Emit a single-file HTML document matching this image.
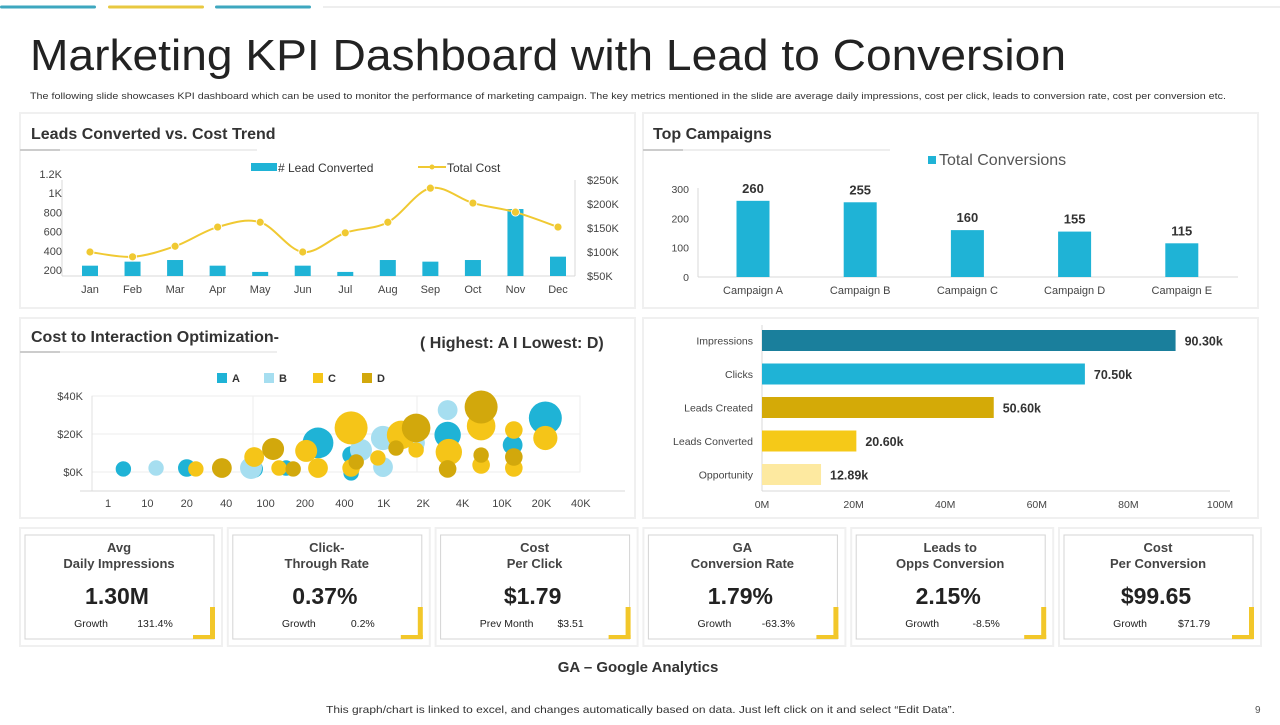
<!DOCTYPE html>
<html><head><meta charset="utf-8"><style>
html,body{margin:0;padding:0;background:#fff;}
svg text{font-family:"Liberation Sans",Arial,sans-serif;}
</style></head><body>
<svg id="s" width="1280" height="720" viewBox="0 0 1280 720" xmlns="http://www.w3.org/2000/svg">
<g>
<rect x="0" y="5.5" width="96" height="3" rx="1.5" fill="#3ea7bf"/>
<rect x="108" y="5.5" width="96" height="3" rx="1.5" fill="#e8c840"/>
<rect x="215" y="5.5" width="96" height="3" rx="1.5" fill="#3ea7bf"/>
<rect x="323" y="6" width="957" height="2" fill="#eeeeee"/>
</g>
<text x="30" y="70" font-size="44" fill="#222" textLength="1036" lengthAdjust="spacingAndGlyphs">Marketing KPI Dashboard with Lead to Conversion</text>
<text x="30" y="99" font-size="9.5" fill="#333" textLength="1196" lengthAdjust="spacingAndGlyphs">The following slide showcases KPI dashboard which can be used to monitor the performance of marketing campaign. The key metrics mentioned in the slide are average daily impressions, cost per click, leads to conversion rate, cost per conversion etc.</text>

<g fill="#fff" stroke="#f0f0f0" stroke-width="2">
<rect x="20" y="113" width="615" height="195"/>
<rect x="643" y="113" width="615" height="195"/>
<rect x="20" y="318" width="615" height="200"/>
<rect x="643" y="318" width="615" height="200"/>
</g>

<text x="31" y="139" font-size="16" font-weight="bold" fill="#333">Leads Converted vs. Cost Trend</text>
<line x1="20" y1="150" x2="257" y2="150" stroke="#ddd" stroke-width="1"/><line x1="20" y1="150" x2="60" y2="150" stroke="#ccc" stroke-width="2"/>
<text x="653" y="139" font-size="16" font-weight="bold" fill="#333">Top Campaigns</text>
<line x1="643" y1="150" x2="890" y2="150" stroke="#ddd" stroke-width="1"/><line x1="643" y1="150" x2="683" y2="150" stroke="#ccc" stroke-width="2"/>
<text x="31" y="342" font-size="16" font-weight="bold" fill="#333">Cost to Interaction Optimization-</text>
<line x1="20" y1="352" x2="277" y2="352" stroke="#ddd" stroke-width="1"/><line x1="20" y1="352" x2="60" y2="352" stroke="#ccc" stroke-width="2"/>
<text x="420" y="348" font-size="16" font-weight="bold" fill="#333">( Highest: A I Lowest: D)</text>

<g id="c1"></g>
<g id="c2"></g>
<g id="c3"></g>
<g id="c4"></g>
<g id="kpi"></g>

<text x="638" y="672" font-size="15" font-weight="bold" fill="#333" text-anchor="middle">GA – Google Analytics</text>
<text x="326" y="713" font-size="10.5" fill="#333" textLength="629" lengthAdjust="spacingAndGlyphs">This graph/chart is linked to excel,  and changes automatically based on data. Just left click on it and select “Edit Data”.</text>
<text x="1255" y="713" font-size="10" fill="#555">9</text>
</svg>
<script>
// Chart 1 data
const months = ["Jan","Feb","Mar","Apr","May","Jun","Jul","Aug","Sep","Oct","Nov","Dec"];
const leadsConverted = [245,287,304,245,180,245,180,304,287,304,835,339];
const totalCost = [100,90,112,152,162,100,140,162,233,202,183,152];
const leftTicks = [200,400,600,800,1000,1200];
const leftTickLabels = ["200","400","600","800","1K","1.2K"];
const rightTicks = [50,100,150,200,250];
const rightTickLabels = ["$50K","$100K","$150K","$200K","$250K"];
// Chart 2 data
const campaigns = ["Campaign A","Campaign B","Campaign C","Campaign D","Campaign E"];
const conversions = [260,255,160,155,115];
const campTicks = [0,100,200,300];
// Chart 3 data (x = position index on category axis, y in $K, size)
const bubbleXLabels = ["1","10","20","40","100","200","400","1K","2K","4K","10K","20K","40K"];
const bubbleYTicks = [0,20,40];
const seriesNames = ["A","B","C","D"];
const aX=[0.39,2.0,3.71,4.52,5.33,6.17,6.17,7.82,8.62,10.27,11.1];
const aY=[1.6,2.1,1.6,2.1,15.3,8.9,-0.5,13.2,19.5,14.2,28.4];
const aR=[7,8,8,7,14,8,7,7,12,9,15];
const bX=[1.22,3.63,6.42,6.98,6.98,7.82,8.62];
const bY=[2.1,2.1,11.6,17.9,2.6,15.3,32.6];
const bR=[7,10,10,11,9,8,9];
const cX=[2.23,3.71,4.34,5.03,5.33,6.17,6.17,6.85,7.44,7.82,8.65,9.47,9.47,10.3,10.3,11.1];
const cY=[1.6,7.9,2.1,11.1,2.1,23.2,2.1,7.4,19.5,11.6,10.5,24.2,3.7,22.1,2.1,17.9];
const cR=[7,9,7,10,9,15,8,7,13,7,12,13,8,8,8,11];
const dX=[2.89,4.19,4.7,6.3,7.31,7.82,8.62,9.47,9.47,10.3];
const dY=[2.1,12.1,1.6,5.3,12.6,23.2,1.6,34.2,8.9,7.9];
const dR=[9,10,7,7,7,13,8,15,7,8];
// Chart 4 data (millions)
const funnelCats = ["Impressions","Clicks","Leads Created","Leads Converted","Opportunity"];
const funnelVals = [90.30,70.50,50.60,20.60,12.89];
const funnelLabels = ["90.30k","70.50k","50.60k","20.60k","12.89k"];
const funnelTicks = [0,20,40,60,80,100];
// KPI data
const kpiTitle1=["Avg","Click-","Cost","GA","Leads to","Cost"];
const kpiTitle2=["Daily Impressions","Through Rate","Per Click","Conversion  Rate","Opps  Conversion","Per Conversion"];
const kpiValues=["1.30M","0.37%","$1.79","1.79%","2.15%","$99.65"];
const kpiSubLabels=["Growth","Growth","Prev Month","Growth","Growth","Growth"];
const kpiSubValues=["131.4%","0.2%","$3.51","-63.3%","-8.5%","$71.79"];

const NS="http://www.w3.org/2000/svg";
function mk(parent,tag,attrs,txt){const e=document.createElementNS(NS,tag);for(const k in attrs)e.setAttribute(k,attrs[k]);if(txt!==undefined)e.textContent=txt;parent.appendChild(e);return e;}

// ---- Chart 1
(function(){
const g=document.getElementById('c1');
const x0=90,dx=(558-90)/11;
const xM=i=>x0+i*dx;
const yL=v=>270-(v-200)*19.2/200;
const yR=v=>276-(v-50)*0.48;
mk(g,'line',{x1:62,y1:180,x2:62,y2:276,stroke:'#d9d9d9'});
mk(g,'line',{x1:575,y1:180,x2:575,y2:276,stroke:'#d9d9d9'});
mk(g,'line',{x1:62,y1:276,x2:575,y2:276,stroke:'#d9d9d9'});
leftTicks.forEach((t,i)=>{const e=mk(g,'text',{x:62,y:yL(t)+4,'font-size':11,fill:'#444','text-anchor':'end'},leftTickLabels[i]);

});
rightTicks.forEach((t,i)=>{const e=mk(g,'text',{x:587,y:yR(t)+4,'font-size':11,fill:'#444'},rightTickLabels[i]);

});
months.forEach((m,i)=>{
const b=mk(g,'rect',{x:xM(i)-8,y:yL(leadsConverted[i]),width:16,height:276-yL(leadsConverted[i]),fill:'#1fb3d6'});


const t=mk(g,'text',{x:xM(i),y:293,'font-size':11,fill:'#444','text-anchor':'middle'},m);


});
const pts=totalCost.map((v,i)=>[xM(i),yR(v)]);
let d='M'+pts[0][0]+','+pts[0][1];
for(let i=0;i<pts.length-1;i++){const p0=pts[i-1]||pts[i],p1=pts[i],p2=pts[i+1],p3=pts[i+2]||p2;
const c1x=p1[0]+(p2[0]-p0[0])/6,c1y=p1[1]+(p2[1]-p0[1])/6,c2x=p2[0]-(p3[0]-p1[0])/6,c2y=p2[1]-(p3[1]-p1[1])/6;
d+=` C${c1x},${c1y} ${c2x},${c2y} ${p2[0]},${p2[1]}`;}
const ln=mk(g,'path',{d:d,fill:'none',stroke:'#f0c932','stroke-width':2});


pts.forEach(p=>{const c=mk(g,'circle',{cx:p[0],cy:p[1],r:4,fill:'#f0c932',stroke:'#fff','stroke-width':0.8});

});
const lg=mk(g,'g',{});


mk(lg,'rect',{x:251,y:163,width:26,height:8,fill:'#1fb3d6'});
mk(lg,'text',{x:278,y:172,'font-size':12,fill:'#333'},'# Lead Converted');
mk(lg,'line',{x1:418,y1:167,x2:446,y2:167,stroke:'#f0c932','stroke-width':2});
mk(lg,'circle',{cx:432,cy:167,r:2.5,fill:'#f0c932'});
mk(lg,'text',{x:447,y:172,'font-size':12,fill:'#333'},'Total Cost');
})();

// ---- Chart 2
(function(){
const g=document.getElementById('c2');
const y=v=>277-v*0.293;
const cx=i=>753+i*107.2;
mk(g,'line',{x1:698,y1:188,x2:698,y2:277,stroke:'#d9d9d9'});
mk(g,'line',{x1:698,y1:277,x2:1238,y2:277,stroke:'#d9d9d9'});
campTicks.forEach(t=>{const e=mk(g,'text',{x:689,y:y(t)+4,'font-size':10.5,fill:'#444','text-anchor':'end'},String(t));

});
campaigns.forEach((c,i)=>{
const b=mk(g,'rect',{x:cx(i)-16.5,y:y(conversions[i]),width:33,height:277-y(conversions[i]),fill:'#1fb3d6'});


const v=mk(g,'text',{x:cx(i),y:y(conversions[i])-8,'font-size':13,'font-weight':'bold',fill:'#333','text-anchor':'middle'},String(conversions[i]));


const t=mk(g,'text',{x:cx(i),y:294,'font-size':11,fill:'#444','text-anchor':'middle'},c);


});
const lg=mk(g,'g',{});


mk(lg,'rect',{x:928,y:156,width:8,height:8,fill:'#1fb3d6'});
mk(lg,'text',{x:939,y:165,'font-size':16,fill:'#555'},'Total Conversions');
})();

// ---- Chart 3
(function(){
const g=document.getElementById('c3');
const x=i=>108+i*39.4;
const y=v=>472-v*1.9;
mk(g,'rect',{x:92,y:y(40),width:488,height:y(0)-y(40),fill:'none',stroke:'#eeeeee'});
mk(g,'line',{x1:92,y1:y(20),x2:580,y2:y(20),stroke:'#eeeeee'});
mk(g,'line',{x1:253,y1:y(40),x2:253,y2:y(0),stroke:'#eeeeee'});
mk(g,'line',{x1:417,y1:y(40),x2:417,y2:y(0),stroke:'#eeeeee'});
mk(g,'line',{x1:92,y1:y(40),x2:92,y2:491,stroke:'#e0e0e0'});
mk(g,'line',{x1:80,y1:491,x2:625,y2:491,stroke:'#d9d9d9'});
bubbleYTicks.forEach(t=>{const e=mk(g,'text',{x:83,y:y(t)+4,'font-size':11,fill:'#444','text-anchor':'end'},'$'+t+'K');

});
bubbleXLabels.forEach((l,i)=>{const e=mk(g,'text',{x:x(i),y:507,'font-size':11,fill:'#444','text-anchor':'middle'},l);

});
const colors=['#1fb3d6','#a6def0','#f5c518','#d2a80c'];
const sets=[[aX,aY,aR],[bX,bY,bR],[cX,cY,cR],[dX,dY,dR]];
sets.forEach((s,k)=>{s[0].forEach((xv,j)=>{
const c=mk(g,'circle',{cx:x(xv),cy:y(s[1][j]),r:s[2][j]*1.1,fill:colors[k]});


});});
const lg=mk(g,'g',{});


const lx=[217,264,313,362];
seriesNames.forEach((n,k)=>{mk(lg,'rect',{x:lx[k],y:373,width:10,height:10,fill:colors[k]});
mk(lg,'text',{x:lx[k]+15,y:382,'font-size':11,'font-weight':'bold',fill:'#333'},n);});
})();

// ---- Chart 4
(function(){
const g=document.getElementById('c4');
const x=v=>762+v*4.58;
const colors=['#1a7f9c','#1fb3d6','#d4aa07','#f5c918','#fde9a0'];
mk(g,'line',{x1:762,y1:325,x2:762,y2:491,stroke:'#d9d9d9'});
mk(g,'line',{x1:762,y1:491,x2:1230,y2:491,stroke:'#d9d9d9'});
funnelCats.forEach((c,i)=>{const cy=340.5+i*33.5;
const b=mk(g,'rect',{x:762,y:cy-10.5,width:x(funnelVals[i])-762,height:21,fill:colors[i]});


const t=mk(g,'text',{x:753,y:cy+4,'font-size':10.5,fill:'#444','text-anchor':'end'},c);


const v=mk(g,'text',{x:x(funnelVals[i])+9,y:cy+5,'font-size':12.5,'font-weight':'bold',fill:'#333'},funnelLabels[i]);


});
funnelTicks.forEach(t=>{const e=mk(g,'text',{x:x(t),y:508,'font-size':10.5,fill:'#444','text-anchor':'middle'},t+'M');

});
})();

// ---- KPI cards
(function(){
const g=document.getElementById('kpi');
kpiValues.forEach((v,i)=>{
const x0=25+i*207.8, cx=x0+94;
const card=mk(g,'g',{});


mk(card,'rect',{x:x0-5,y:528,width:202,height:118,fill:'#fff',stroke:'#f0f0f0','stroke-width':2});
mk(card,'rect',{x:x0,y:535,width:189,height:104,fill:'#fff',stroke:'#d4d4d4','stroke-width':1});
mk(card,'text',{x:cx,y:552,'font-size':13,'font-weight':'bold',fill:'#444','text-anchor':'middle'},kpiTitle1[i]);
mk(card,'text',{x:cx,y:568,'font-size':13,'font-weight':'bold',fill:'#444','text-anchor':'middle'},kpiTitle2[i]);
mk(card,'text',{x:cx-2,y:604,'font-size':23,'font-weight':'bold',fill:'#222','text-anchor':'middle'},v);
mk(card,'text',{x:cx-28,y:627,'font-size':10.5,fill:'#222','text-anchor':'middle'},kpiSubLabels[i]);
mk(card,'text',{x:cx+36,y:627,'font-size':10.5,fill:'#222','text-anchor':'middle'},kpiSubValues[i]);
mk(card,'rect',{x:x0+185,y:607,width:5,height:32,fill:'#f2c72a'});
mk(card,'rect',{x:x0+168,y:635,width:22,height:4,fill:'#f2c72a'});
});
})();
</script>
</body></html>
